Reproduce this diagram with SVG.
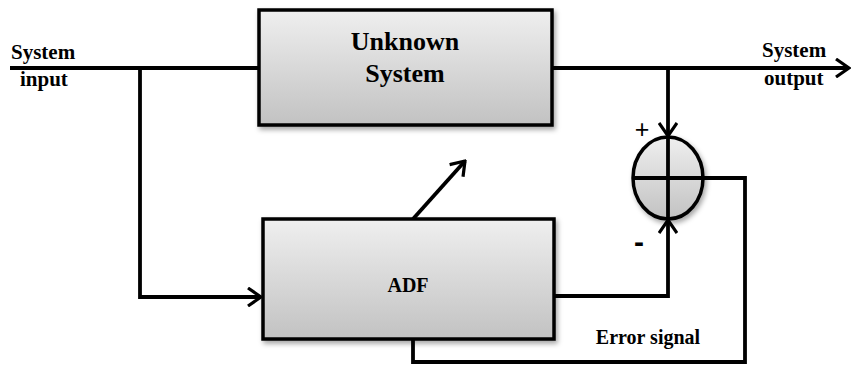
<svg xmlns="http://www.w3.org/2000/svg" width="852" height="367" viewBox="0 0 852 367">
  <defs>
    <linearGradient id="boxFill" x1="0" y1="0" x2="0" y2="1">
      <stop offset="0" stop-color="#efefef"/>
      <stop offset="1" stop-color="#c2c2c2"/>
    </linearGradient>
    <filter id="shadow" x="-10%" y="-10%" width="125%" height="130%">
      <feDropShadow dx="2" dy="3" stdDeviation="2.5" flood-color="#000" flood-opacity="0.35"/>
    </filter>
    <marker id="arrow" viewBox="0 0 16 20" refX="14" refY="10" markerWidth="16" markerHeight="20" markerUnits="userSpaceOnUse" orient="auto">
      <path d="M1,1 L14,10 L1,19" fill="none" stroke="#000" stroke-width="3.2"/>
    </marker>
    <style>
      .block { fill: url(#boxFill); stroke: #000; stroke-width: 3.5; filter: url(#shadow); }
      .wire { fill: none; stroke: #000; stroke-width: 3.8; }
      .lbl { font-family: "Liberation Serif", "Times New Roman", serif; font-weight: bold; fill: #000; }
      .sign { font-family: "Liberation Sans", Arial, sans-serif; fill: #000; }
    </style>
  </defs>

  <!-- signal connectors -->
  <g id="connectors">
    <!-- input line into the unknown system -->
    <path class="wire" d="M10,68 L259,68"/>
    <!-- branch to the adaptive filter -->
    <path class="wire" d="M140,68 L140,297 L261,297" marker-end="url(#arrow)"/>
    <!-- system output -->
    <path class="wire" d="M552,68 L849,68" marker-end="url(#arrow)"/>
    <!-- desired signal into the summer (+) -->
    <path class="wire" d="M668,68 L668,136" marker-end="url(#arrow)"/>
    <!-- filter output into the summer (-) -->
    <path class="wire" d="M554,296 L668,296 L668,220" marker-end="url(#arrow)"/>
    <!-- weight adaptation arrow -->
    <path class="wire" d="M413,219 L465,161" marker-end="url(#arrow)"/>
  </g>

  <g id="unknown-system">
    <rect class="block" x="259" y="10" width="293" height="115"/>
    <text class="lbl" x="405" y="50" font-size="26" text-anchor="middle">Unknown</text>
    <text class="lbl" x="405" y="82" font-size="26" text-anchor="middle">System</text>
  </g>

  <g id="adf">
    <rect class="block" x="263" y="219" width="291" height="120"/>
    <text class="lbl" x="408" y="292" font-size="20" text-anchor="middle">ADF</text>
  </g>

  <g id="summer">
    <ellipse class="block" cx="668" cy="178" rx="35" ry="41"/>
    <path class="wire" d="M668,137 L668,219 M633,178 L703,178"/>
    <text class="sign" x="642" y="138" font-size="25" text-anchor="middle">+</text>
    <text class="sign" x="639" y="252" font-size="30" font-weight="bold" text-anchor="middle">-</text>
  </g>

  <!-- error feedback path -->
  <g id="error-path">
    <path class="wire" d="M703,178 L745,178 L745,362 L413,362 L413,339"/>
    <text class="lbl" x="648" y="344" font-size="20" text-anchor="middle">Error signal</text>
  </g>

  <g id="labels">
    <text class="lbl" x="11" y="59" font-size="21">System</text>
    <text class="lbl" x="20" y="86" font-size="21">input</text>
    <text class="lbl" x="762" y="57" font-size="21">System</text>
    <text class="lbl" x="764" y="85" font-size="21">output</text>
  </g>
</svg>
